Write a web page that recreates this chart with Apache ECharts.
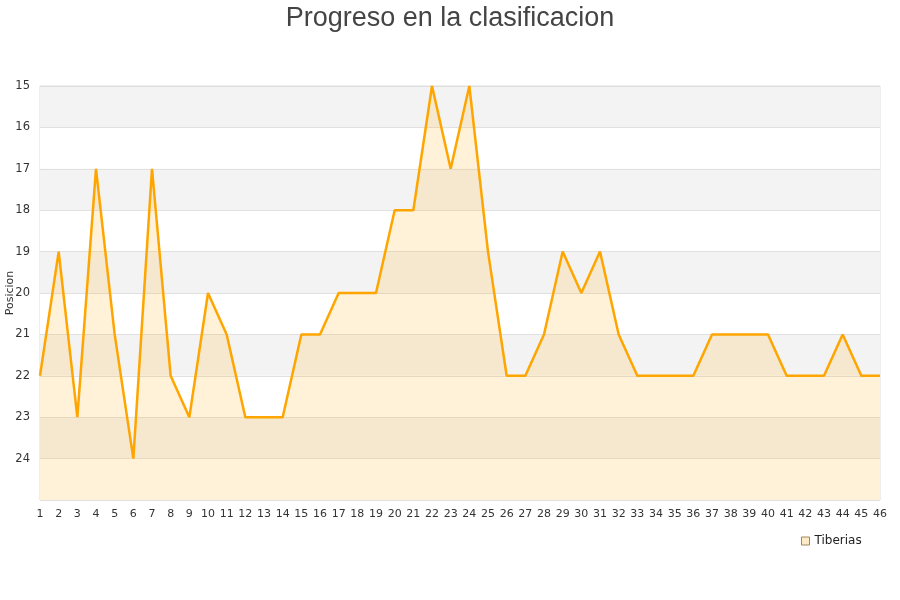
<!DOCTYPE html>
<html><head><meta charset="utf-8">
<script src="https://cdn.jsdelivr.net/npm/echarts@6/dist/echarts.min.js"></script>
<style>html,body{margin:0;padding:0;background:#fff}#c{width:900px;height:600px}</style>
</head><body><div id="c"></div>
<script>
const jornadas = Array.from({length:46},(_,i)=>String(i+1));
const posiciones = [22,19,23,17,21,24,17,22,23,20,21,23,23,23,21,21,20,20,20,18,18,15,17,15,19,22,22,21,19,20,19,21,22,22,22,22,21,21,21,21,22,22,22,21,22,22];
const yTicks = [15,16,17,18,19,20,21,22,23,24,25];
const chart = echarts.init(document.getElementById('c'));
chart.setOption({
  animation:false,
  backgroundColor:'#fff',
  title:{text:'Progreso en la clasificacion',left:'center',top:0,textStyle:{fontFamily:'Liberation Sans, Arial',fontSize:27,fontWeight:'normal',color:'#444'}},
  grid:{left:40,right:20,top:86,bottom:100,containLabel:false,outerBoundsMode:'none',show:true,borderColor:'#ddd',borderWidth:1,backgroundColor:'transparent'},
  legend:{data:['Tiberias'],left:796,top:530,icon:'rect',itemWidth:8,itemHeight:8,itemGap:10,textStyle:{fontFamily:'DejaVu Sans',fontSize:12,color:'#222'},
    itemStyle:{color:'#fdebc8',borderColor:'#9a8a60',borderWidth:1}},
  xAxis:{type:'category',data:jornadas,boundaryGap:false,
    axisLine:{show:false},axisTick:{show:false},
    axisLabel:{interval:0,fontFamily:'DejaVu Sans',fontSize:11,color:'#333',margin:9},
    splitLine:{show:false}},
  yAxis:{type:'value',inverse:true,min:yTicks[0],max:yTicks[yTicks.length-1],interval:1,
    name:'Posicion',nameLocation:'middle',nameGap:24,nameMoveOverlap:false,nameTextStyle:{fontFamily:'DejaVu Sans',fontSize:11,color:'#333'},
    axisLine:{show:false},axisTick:{show:false},
    axisLabel:{fontFamily:'DejaVu Sans',fontSize:11.5,color:'#333',margin:10,
      formatter:v=>v===25?'':String(v)},
    splitLine:{show:true,lineStyle:{color:'#e0e0e0',width:1}},
    splitArea:{show:true,areaStyle:{color:['#f3f3f3','#ffffff']}}},
  series:[{name:'Tiberias',type:'line',data:posiciones,symbol:'none',smooth:false,
    lineStyle:{color:'#ffa500',width:2.5},
    itemStyle:{color:'#fdebc8',borderColor:'#9a8a60'},
    areaStyle:{color:'rgba(255,183,40,0.25)',origin:'end'}}]
});
</script></body></html>
